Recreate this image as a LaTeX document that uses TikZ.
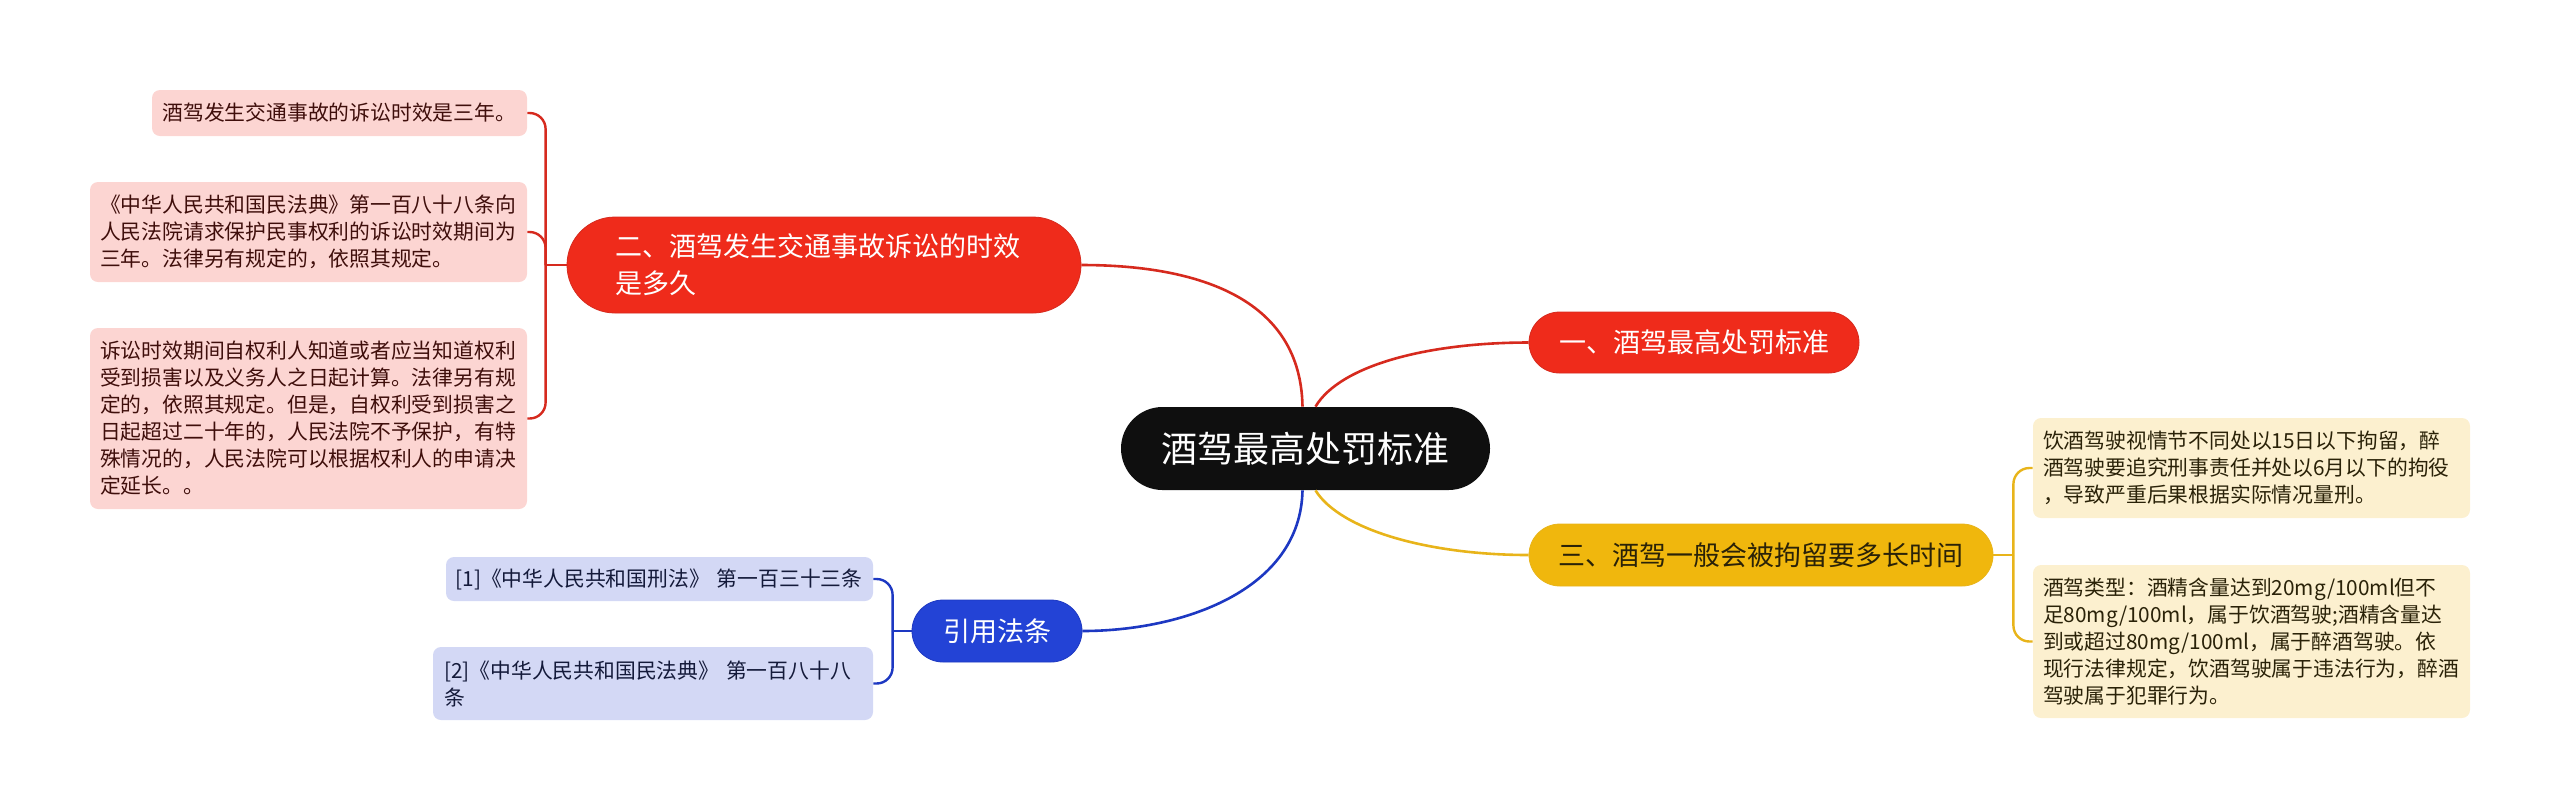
\documentclass[tikz,border=0pt]{standalone}
\usepackage{fontspec}
\setmainfont{Noto Sans CJK SC}
\usetikzlibrary{positioning, shapes.misc}
\definecolor{redfill}{HTML}{EF2B1B}
\definecolor{redline}{HTML}{D62A1E}
\definecolor{redleaf}{HTML}{FCD5D2}
\definecolor{redtext}{HTML}{3F0E0B}
\definecolor{yelfill}{HTML}{F0B70D}
\definecolor{yelline}{HTML}{E8B41A}
\definecolor{yelleaf}{HTML}{FCF0CF}
\definecolor{yeltext}{HTML}{2A2208}
\definecolor{bluefill}{HTML}{2343D6}
\definecolor{blueline}{HTML}{1D38C2}
\definecolor{blueleaf}{HTML}{D3D8F5}
\definecolor{bluetext}{HTML}{141A3A}
\definecolor{rootfill}{HTML}{0F0F0F}
\newcommand{\leaffont}{\fontsize{10.4pt}{13.5pt}\selectfont}
\newcommand{\branchfont}{\fontsize{13.5pt}{18.5pt}\selectfont}
\newcommand{\rootfont}{\fontsize{18pt}{22pt}\selectfont}

\begin{document}
\begin{tikzpicture}[
    x=0.5pt, y=-0.5pt,
    link/.style={line width=1.3pt},
    brace/.style={line width=1.2pt, rounded corners=8pt},
    topic/.style={rounded rectangle, inner sep=0pt, align=center, text=white, font=\branchfont},
    leaf/.style={rectangle, rounded corners=4pt, inner sep=0pt, align=left, font=\leaffont}
  ]
\useasboundingbox (0,0) rectangle (2560,811);

% =================== central topic ===================
\node[topic, fill=rootfill, font=\rootfont, minimum width=184.5pt, minimum height=41.5pt]
  (root) at (1305.5,448.5) {酒驾最高处罚标准};

% =================== main branches ===================
\node[topic, fill=redfill, draw=redline, minimum width=165pt, minimum height=30.5pt]
  (b1) at (1694,342.5) {一、酒驾最高处罚标准};
\node[topic, fill=redfill, draw=redline, align=left, text width=209pt, minimum width=257pt, minimum height=48pt]
  (b2) at (824,265) {二、酒驾发生交通事故诉讼的时效\\是多久};
\node[topic, fill=yelfill, draw=yelline, text=yeltext, minimum width=232pt, minimum height=31pt]
  (b3) at (1761,555) {三、酒驾一般会被拘留要多长时间};
\node[topic, fill=bluefill, draw=blueline, minimum width=85pt, minimum height=31pt]
  (b4) at (997,631) {引用法条};

% curved links from the central topic
\draw[link, redline] ([xshift=-1.5pt]root.north) .. controls +(-2,-117) and +(100,0) .. (b2.east);
\draw[link, redline] ([xshift=5pt]root.north) .. controls +(25,-42) and +(-99,0) .. (b1.west);
\draw[link, yelline] ([xshift=5pt]root.south) .. controls +(25,40) and +(-99,0) .. (b3.west);
\draw[link, blueline] ([xshift=-1.5pt]root.south) .. controls +(-2,100) and +(100,0) .. (b4.east);

% =================== (2) red leaves ===================
\node[leaf, fill=redleaf, text=redtext, text width=177pt, minimum width=187.5pt, minimum height=23pt]
  (rl1) at (339.5,113) {酒驾发生交通事故的诉讼时效是三年。};
\node[leaf, fill=redleaf, text=redtext, text width=208.5pt, minimum width=218.5pt, minimum height=50pt]
  (rl2) at (308.5,232) {《中华人民共和国民法典》第一百八十八条向\\
    人民法院请求保护民事权利的诉讼时效期间为\\
    三年。法律另有规定的，依照其规定。};
\node[leaf, fill=redleaf, text=redtext, text width=208.5pt, minimum width=218.5pt, minimum height=90.5pt]
  (rl3) at (308.5,418.5) {诉讼时效期间自权利人知道或者应当知道权利\\
    受到损害以及义务人之日起计算。法律另有规\\
    定的，依照其规定。但是，自权利受到损害之\\
    日起超过二十年的，人民法院不予保护，有特\\
    殊情况的，人民法院可以根据权利人的申请决\\
    定延长。。};

\coordinate[left=10.5pt of b2.west] (rj);
\draw[brace, redline] (b2.west) -- (rj);
\foreach \n in {rl1,rl2,rl3}
  \draw[brace, redline] (rj) |- (\n.east);

% =================== (3) yellow leaves ===================
\node[leaf, fill=yelleaf, text=yeltext, text width=208.5pt, minimum width=218.5pt, minimum height=50pt]
  (yl1) at (2251.5,468) {饮酒驾驶视情节不同处以15日以下拘留，醉\\
    酒驾驶要追究刑事责任并处以6月以下的拘役\\
    ，导致严重后果根据实际情况量刑。};
\node[leaf, fill=yelleaf, text=yeltext, text width=208.5pt, minimum width=218.5pt, minimum height=76.5pt]
  (yl2) at (2251.5,641.5) {酒驾类型：酒精含量达到20mg/100ml但不\\
    足80mg/100ml，属于饮酒驾驶;酒精含量达\\
    到或超过80mg/100ml，属于醉酒驾驶。依\\
    现行法律规定，饮酒驾驶属于违法行为，醉酒\\
    驾驶属于犯罪行为。};

\coordinate[right=10pt of b3.east] (yj);
\draw[brace, yelline] (b3.east) -- (yj);
\foreach \n in {yl1,yl2}
  \draw[brace, yelline] (yj) |- (\n.west);

% =================== cited articles (blue) ===================
\node[leaf, fill=blueleaf, text=bluetext, text width=204pt, minimum width=213.5pt, minimum height=22pt]
  (bl1) at (659.5,579) {\mbox{[1]《中华人民共和国刑法》~第一百三十三条}};
\node[leaf, fill=blueleaf, text=bluetext, text width=209pt, minimum width=220pt, minimum height=36.5pt]
  (bl2) at (653,683.5) {[2]《中华人民共和国民法典》~第一百八十八\\条};

\coordinate[left=9.5pt of b4.west] (bj);
\draw[brace, blueline] (b4.west) -- (bj);
\foreach \n in {bl1,bl2}
  \draw[brace, blueline] (bj) |- (\n.east);

\end{tikzpicture}
\end{document}
